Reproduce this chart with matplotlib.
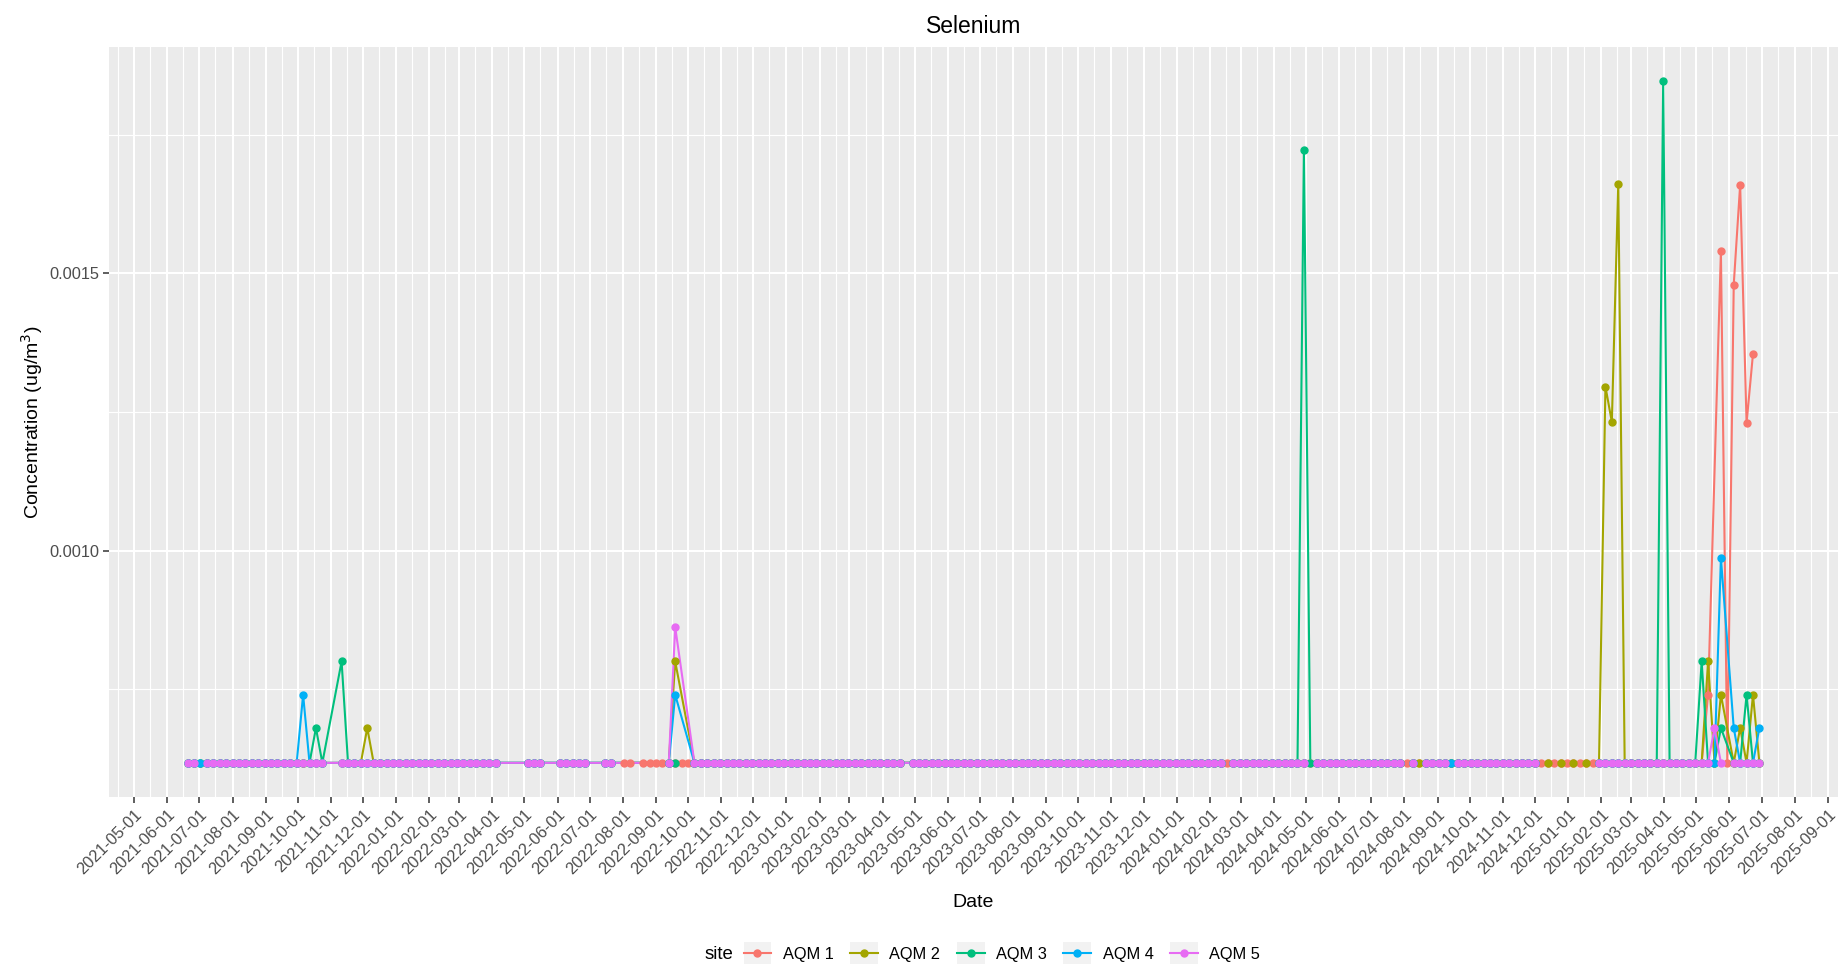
import matplotlib

matplotlib.use("Agg")
import matplotlib.pyplot as plt
import matplotlib.dates as mdates
import pandas as pd
from matplotlib.legend_handler import HandlerLine2D
from matplotlib.lines import Line2D
from matplotlib.patches import Rectangle
from matplotlib.ticker import FixedLocator, FormatStrFormatter

plt.rcParams["font.family"] = ["Liberation Sans", "DejaVu Sans"]

SITES = ["AQM 1", "AQM 2", "AQM 3", "AQM 4", "AQM 5"]
COLORS = ["#F8766D", "#A3A500", "#00BF7D", "#00B0F6", "#E76BF3"]

# 1-in-6 day sampling, most results reported at the detection limit
SAMPLE_START = "2021-06-20"
SAMPLE_END = "2025-06-29"
SAMPLE_EVERY = "6D"
DETECTION_LIMIT = 0.000617

# days with no sample at any site
NO_SAMPLE_DAYS = ["2021-10-30", "2021-11-05", "2022-04-10", "2022-04-16", "2022-04-22",
                  "2022-04-28", "2022-05-22", "2022-05-28", "2022-07-03", "2022-07-09",
                  "2022-07-27", "2022-08-14", "2023-04-23"]

FIRST_SAMPLE = {"AQM 1": "2022-08-02"}

# (from, to) periods with no result for a site
ONLY_AQM1 = [("2022-08-02", "2022-09-07"), ("2022-09-25", "2022-10-01"), ("2024-02-17", "2024-02-17"),
             ("2024-08-03", "2024-08-03"), ("2025-05-30", "2025-05-30")]
GAPS = {
    "AQM 1": [("2025-05-18", "2025-05-18"), ("2025-06-29", "2025-06-29")],
    "AQM 2": ONLY_AQM1 + [("2024-05-05", "2024-05-05"), ("2024-12-07", "2024-12-07"),
                          ("2024-12-19", "2024-12-19"), ("2024-12-31", "2024-12-31"),
                          ("2025-01-12", "2025-01-12"), ("2025-01-24", "2025-01-24")],
    "AQM 3": ONLY_AQM1 + [("2024-08-15", "2024-08-15"), ("2024-12-07", "2025-01-24")],
    "AQM 4": ONLY_AQM1 + [("2024-05-05", "2024-05-05"), ("2024-08-15", "2024-08-15"),
                          ("2024-12-07", "2025-01-24")],
    "AQM 5": ONLY_AQM1 + [("2021-07-02", "2021-07-02"), ("2024-05-05", "2024-05-05"),
                          ("2024-08-15", "2024-08-15"), ("2024-09-14", "2024-09-14"),
                          ("2024-12-07", "2025-01-24")],
}

# results above the detection limit
AQM1_DATES = ["2025-05-12", "2025-05-24", "2025-06-05", "2025-06-11", "2025-06-17", "2025-06-23"]
AQM1_VALUES = [0.00074, 0.00154, 0.00148, 0.00166, 0.00123, 0.001355]
AQM2_DATES = ["2021-12-05", "2022-09-19", "2025-02-05", "2025-02-11", "2025-02-17",
              "2025-05-12", "2025-05-24", "2025-06-11", "2025-06-23"]
AQM2_VALUES = [0.00068, 0.0008, 0.001296, 0.001232, 0.001662, 0.0008, 0.00074, 0.00068, 0.00074]
AQM3_DATES = ["2021-10-18", "2021-11-11", "2024-04-29", "2025-03-31", "2025-05-06",
              "2025-05-24", "2025-06-17"]
AQM3_VALUES = [0.00068, 0.0008, 0.001723, 0.001847, 0.0008, 0.00068, 0.00074]
AQM4_DATES = ["2021-10-06", "2022-09-19", "2025-05-24", "2025-06-05", "2025-06-29"]
AQM4_VALUES = [0.00074, 0.00074, 0.000987, 0.00068, 0.00068]
AQM5_DATES = ["2022-09-19", "2025-05-18"]
AQM5_VALUES = [0.000862, 0.00068]

READINGS = {
    "AQM 1": (AQM1_DATES, AQM1_VALUES),
    "AQM 2": (AQM2_DATES, AQM2_VALUES),
    "AQM 3": (AQM3_DATES, AQM3_VALUES),
    "AQM 4": (AQM4_DATES, AQM4_VALUES),
    "AQM 5": (AQM5_DATES, AQM5_VALUES),
}


def site_series(site):
    days = pd.date_range(SAMPLE_START, SAMPLE_END, freq=SAMPLE_EVERY)
    days = days[~days.isin(pd.to_datetime(NO_SAMPLE_DAYS))]
    s = pd.Series(DETECTION_LIMIT, index=days)
    if site in FIRST_SAMPLE:
        s = s[s.index >= pd.Timestamp(FIRST_SAMPLE[site])]
    for start, end in GAPS[site]:
        s = s[(s.index < pd.Timestamp(start)) | (s.index > pd.Timestamp(end))]
    dates, values = READINGS[site]
    for d, v in zip(dates, values):
        s[pd.Timestamp(d)] = v
    return s.sort_index()


class KeyHandler(HandlerLine2D):
    def create_artists(self, legend, orig_handle, xdescent, ydescent, width, height, fontsize, trans):
        box = Rectangle((-xdescent, -ydescent - 0.45 * height), width, height * 1.9,
                        facecolor="#F2F2F2", edgecolor="none", transform=trans)
        return [box] + super().create_artists(legend, orig_handle, xdescent, ydescent,
                                              width, height, fontsize, trans)


fig = plt.figure(figsize=(18.45, 9.66), dpi=100)
ax = fig.add_axes([0.0591, 0.175, 0.9371, 0.7763])
ax.set_facecolor("#EBEBEB")

series = {site: site_series(site) for site in SITES}
for site, color in zip(SITES, COLORS):
    s = series[site]
    ax.plot(s.index, s.values, color=color, lw=1.5, zorder=2)
for site, color in zip(SITES, COLORS):
    s = series[site]
    ax.plot(s.index, s.values, ls="none", marker="o", ms=5.0, color=color, zorder=3)

ax.margins(x=0.05, y=0.05)

ax.xaxis.set_major_locator(mdates.MonthLocator())
ax.xaxis.set_minor_locator(mdates.MonthLocator(bymonthday=16))
ax.xaxis.set_major_formatter(mdates.DateFormatter("%Y-%m-%d"))
ax.yaxis.set_major_locator(FixedLocator([0.0010, 0.0015]))
ax.yaxis.set_minor_locator(FixedLocator([0.00075, 0.00125, 0.00175]))
ax.yaxis.set_major_formatter(FormatStrFormatter("%.4f"))

ax.grid(which="major", color="white", lw=1.5, zorder=0)
ax.grid(which="minor", color="white", lw=0.8, zorder=0)
ax.set_axisbelow(True)
for sp in ax.spines.values():
    sp.set_visible(False)

ax.tick_params(which="major", length=4, width=1.1, color="#333333", labelcolor="#4D4D4D",
               labelsize=11.8, pad=3)
ax.tick_params(which="minor", length=0)
plt.setp(ax.get_xticklabels(), rotation=45, ha="right", rotation_mode="anchor")

ax.set_xlabel("Date", fontsize=14, labelpad=12)
ax.set_ylabel("Concentration (ug/m$^{3}$)", fontsize=14, labelpad=3)
ax.set_title("Selenium", fontsize=16.5, pad=10)

handles = [Line2D([], [], color=c, lw=1.5, marker="o", ms=5.0) for c in COLORS]
leg = fig.legend(handles, SITES, loc="center", bbox_to_anchor=(0.543, 0.0124), ncol=5,
                 frameon=False, fontsize=11.8, numpoints=1, handlelength=1.7,
                 handletextpad=0.7, columnspacing=1.0,
                 handler_map={Line2D: KeyHandler()})

fig.canvas.draw()
bb = leg.get_window_extent().transformed(fig.transFigure.inverted())
fig.text(bb.x0 - 0.002, 0.0124, "site", fontsize=13.4, ha="right", va="center")

fig.savefig("out.png", dpi=100)
